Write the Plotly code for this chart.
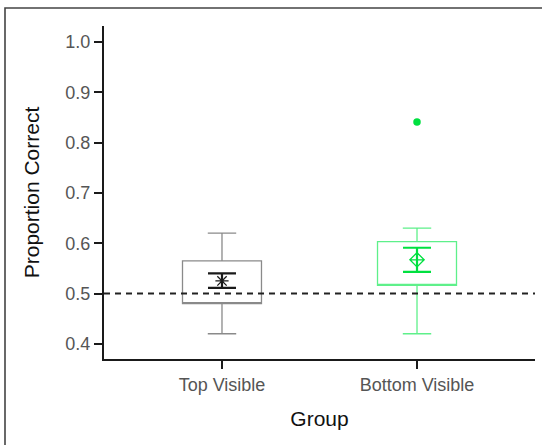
import plotly.graph_objects as go

groups = ["Top Visible", "Bottom Visible"]
q1 = [0.480, 0.516]
q3 = [0.565, 0.603]
medians = [0.480, 0.516]
lower_fence = [0.420, 0.420]
upper_fence = [0.620, 0.630]
means = [0.525, 0.567]
se_upper = [0.540, 0.591]
se_lower = [0.511, 0.543]
outlier_group = ["Bottom Visible"]
outlier_value = [0.841]
chance = 0.5

box_colors = ["#8a8a8a", "#5ef08a"]
mean_colors = ["#1a1a1a", "#00e040"]
mean_symbols = ["asterisk-open", "diamond-cross-open"]

fig = go.Figure()
for i, g in enumerate(groups):
    fig.add_trace(go.Box(
        x=[g], q1=[q1[i]], q3=[q3[i]], median=[medians[i]],
        lowerfence=[lower_fence[i]], upperfence=[upper_fence[i]],
        width=0.405, whiskerwidth=0.36,
        line=dict(color=box_colors[i], width=1.3),
        fillcolor="rgba(255,255,255,0)", boxpoints=False,
        showlegend=False, hoverinfo="skip",
    ))
    fig.add_trace(go.Scatter(
        x=[g], y=[means[i]], mode="markers",
        marker=dict(symbol=mean_symbols[i], size=11, color=mean_colors[i],
                    line=dict(color=mean_colors[i], width=1.3)),
        error_y=dict(type="data", symmetric=False,
                     array=[se_upper[i] - means[i]],
                     arrayminus=[means[i] - se_lower[i]],
                     color=mean_colors[i], thickness=2.2, width=14),
        showlegend=False,
    ))

fig.add_trace(go.Scatter(
    x=outlier_group, y=outlier_value, mode="markers",
    marker=dict(symbol="circle", size=7.5, color="#00e040"),
    showlegend=False,
))

fig.add_shape(type="line", xref="paper", yref="y", x0=0, x1=1, y0=chance, y1=chance,
              line=dict(color="#222222", width=2, dash="6px,5px"), layer="above")

# figure frame (pixel positions converted to paper coordinates)
W, H = 542, 445
L, R, T, B = 104, 7, 26, 86
pw, ph = W - L - R, H - T - B
def px_x(x):
    return (x - L) / pw
def px_y(y):
    return (H - B - y) / ph
fig.add_shape(type="rect", xref="paper", yref="paper",
              x0=px_x(5), x1=px_x(W + 10), y0=px_y(H + 10), y1=px_y(8),
              line=dict(color="#444444", width=1.6), fillcolor="rgba(0,0,0,0)")

fig.update_layout(
    width=W, height=H,
    margin=dict(l=L, r=R, t=T, b=B),
    paper_bgcolor="white", plot_bgcolor="white",
    font=dict(family="Liberation Sans, Arial, sans-serif"),
    xaxis=dict(
        type="category", categoryorder="array", categoryarray=groups,
        range=[-0.605, 1.605],
        showline=True, linecolor="#1a1a1a", linewidth=2,
        ticks="outside", ticklen=8, tickwidth=2, tickcolor="#1a1a1a",
        tickfont=dict(size=18, color="#555555"),
        title=dict(text="Group", font=dict(size=21, color="#111111"), standoff=18),
        showgrid=False, zeroline=False,
    ),
    yaxis=dict(
        range=[0.3698, 1.0318],
        tickvals=[0.4, 0.5, 0.6, 0.7, 0.8, 0.9, 1.0], tickformat=".1f",
        showline=True, linecolor="#1a1a1a", linewidth=2,
        ticks="outside", ticklen=8, tickwidth=2, tickcolor="#1a1a1a",
        tickfont=dict(size=18, color="#555555"),
        title=dict(text="Proportion Correct", font=dict(size=21, color="#111111"), standoff=20),
        showgrid=False, zeroline=False,
    ),
)

fig.write_html("out.html", config={"displayModeBar": False},
               post_script="document.body.style.margin='0';")
